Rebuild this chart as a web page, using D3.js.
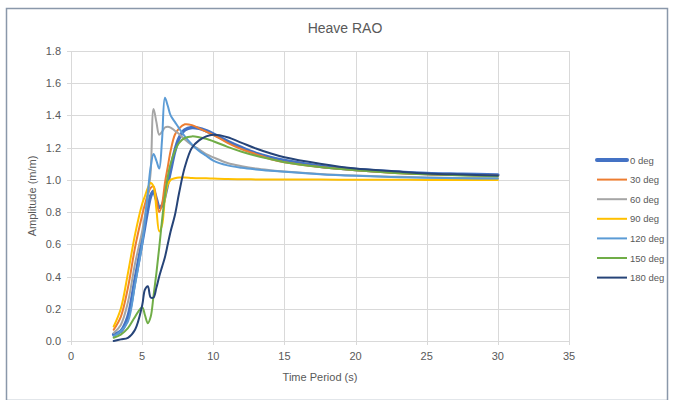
<html>
  <head>
    <title>Heave RAO</title>
    <style>
      body { margin: 0; background: white; }
      text { font-family: "Liberation Sans", "DejaVu Sans", sans-serif; fill: #595959; }
    </style>
  </head>
  <body>
    <script src="https://d3js.org/d3.v7.min.js"></script>
    <script type="text/javascript">

    // wave period (s)
    var periods = [3, 3.5, 4, 4.5, 5, 5.2, 5.4, 5.6, 5.8, 6.0, 6.2, 6.4, 6.6, 6.8, 7.0, 7.3, 7.6, 8.0, 8.5, 9.0, 9.5, 10, 11, 12, 13, 14, 15, 17.5, 20, 22.5, 25, 27.5, 30];

    var deg0   = [0.04, 0.06, 0.15, 0.38, 0.62, 0.72, 0.82, 0.90, 0.93, 0.88, 0.83, 0.84, 0.90, 0.98, 1.06, 1.18, 1.26, 1.31, 1.325, 1.32, 1.305, 1.285, 1.24, 1.20, 1.165, 1.14, 1.12, 1.085, 1.065, 1.05, 1.04, 1.035, 1.03];
    var deg30  = [0.07, 0.15, 0.33, 0.58, 0.78, 0.85, 0.91, 0.95, 0.96, 0.88, 0.80, 0.85, 0.98, 1.08, 1.18, 1.28, 1.32, 1.345, 1.34, 1.32, 1.30, 1.28, 1.23, 1.19, 1.16, 1.13, 1.11, 1.08, 1.06, 1.045, 1.035, 1.03, 1.025];
    var deg60  = [0.05, 0.10, 0.24, 0.48, 0.68, 0.78, 0.90, 1.05, 1.44, 1.36, 1.28, 1.30, 1.325, 1.33, 1.325, 1.305, 1.285, 1.25, 1.215, 1.19, 1.16, 1.14, 1.105, 1.085, 1.07, 1.06, 1.052, 1.037, 1.027, 1.02, 1.015, 1.012, 1.01];
    var deg90  = [0.09, 0.20, 0.42, 0.66, 0.85, 0.90, 0.95, 0.98, 0.96, 0.82, 0.68, 0.72, 0.88, 0.97, 1.00, 1.01, 1.015, 1.015, 1.012, 1.01, 1.01, 1.008, 1.005, 1.004, 1.003, 1.003, 1.002, 1.002, 1.001, 1.001, 1.0, 1.0, 1.0];
    var deg120 = [0.03, 0.06, 0.12, 0.35, 0.60, 0.75, 0.92, 1.08, 1.16, 1.12, 1.07, 1.25, 1.51, 1.46, 1.40, 1.36, 1.32, 1.27, 1.22, 1.18, 1.15, 1.12, 1.09, 1.075, 1.065, 1.057, 1.05, 1.035, 1.025, 1.018, 1.013, 1.01, 1.008];
    var deg150 = [0.02, 0.04, 0.08, 0.15, 0.21, 0.16, 0.11, 0.15, 0.28, 0.42, 0.58, 0.75, 0.90, 1.02, 1.10, 1.18, 1.23, 1.26, 1.27, 1.265, 1.255, 1.24, 1.205, 1.175, 1.15, 1.13, 1.11, 1.08, 1.06, 1.045, 1.035, 1.028, 1.022];
    var deg180 = [0.0, 0.01, 0.02, 0.07, 0.22, 0.32, 0.34, 0.27, 0.27, 0.33, 0.40, 0.46, 0.52, 0.60, 0.68, 0.78, 0.92, 1.08, 1.20, 1.245, 1.27, 1.28, 1.265, 1.23, 1.195, 1.165, 1.14, 1.10, 1.07, 1.055, 1.04, 1.033, 1.028];

    var seriesNames = ["0 deg", "30 deg", "60 deg", "90 deg", "120 deg", "150 deg", "180 deg"];
    var seriesValues = [deg0, deg30, deg60, deg90, deg120, deg150, deg180];
    var colors = ["#4472C4", "#ED7D31", "#A5A5A5", "#FFC000", "#5B9BD5", "#70AD47", "#264478"];

    var xTicks = [0, 5, 10, 15, 20, 25, 30, 35];
    var yTicks = [0, 0.2, 0.4, 0.6, 0.8, 1.0, 1.2, 1.4, 1.6, 1.8];

    var w = 673;
    var h = 400;
    var margin = {left: 71, right: 104, top: 51, bottom: 59};

    var svg = d3.select("body")
                .append("svg")
                .attr("width", w)
                .attr("height", h);

    // chart frame
    svg.append("rect")
       .attr("x", 6.5)
       .attr("y", 8.5)
       .attr("width", 661)
       .attr("height", 392)
       .attr("fill", "white")
       .attr("stroke", "#8a98aa")
       .attr("stroke-width", 1.5);

    var x = d3.scaleLinear().domain([0, 35]).range([margin.left, w - margin.right]);
    var y = d3.scaleLinear().domain([0, 1.8]).range([h - margin.bottom, margin.top]);

    // grid
    svg.append("g")
       .selectAll("line")
       .data(yTicks)
       .enter()
       .append("line")
         .attr("x1", x(0) - 4)
         .attr("x2", x(35))
         .attr("y1", function(d){ return Math.round(y(d)) + 0.5; })
         .attr("y2", function(d){ return Math.round(y(d)) + 0.5; })
         .attr("stroke", "#d9d9d9")
         .attr("stroke-width", 1);

    svg.append("g")
       .selectAll("line")
       .data(xTicks)
       .enter()
       .append("line")
         .attr("x1", function(d){ return Math.round(x(d)) + 0.5; })
         .attr("x2", function(d){ return Math.round(x(d)) + 0.5; })
         .attr("y1", y(1.8))
         .attr("y2", y(0) + 4)
         .attr("stroke", "#d9d9d9")
         .attr("stroke-width", 1);

    // tick labels
    svg.append("g")
       .selectAll("text")
       .data(yTicks)
       .enter()
       .append("text")
         .attr("x", x(0) - 10)
         .attr("y", function(d){ return y(d) + 4; })
         .attr("text-anchor", "end")
         .style("font-size", "11px")
         .text(function(d){ return d3.format(".1f")(d); });

    svg.append("g")
       .selectAll("text")
       .data(xTicks)
       .enter()
       .append("text")
         .attr("x", function(d){ return x(d); })
         .attr("y", y(0) + 19)
         .attr("text-anchor", "middle")
         .style("font-size", "11px")
         .text(function(d){ return d; });

    // titles
    svg.append("text")
       .attr("x", 345)
       .attr("y", 33)
       .attr("text-anchor", "middle")
       .style("font-size", "14px")
       .text("Heave RAO");

    svg.append("text")
       .attr("x", (x(0) + x(35)) / 2)
       .attr("y", 381)
       .attr("text-anchor", "middle")
       .style("font-size", "11px")
       .text("Time Period (s)");

    svg.append("text")
       .attr("transform", "translate(36," + ((y(0) + y(1.8)) / 2) + ") rotate(-90)")
       .attr("text-anchor", "middle")
       .style("font-size", "11px")
       .text("Amplitude (m/m)");

    // lines
    var line = d3.line()
                 .x(function(d){ return x(d[0]); })
                 .y(function(d){ return y(d[1]); })
                 .curve(d3.curveCatmullRom.alpha(0.5));

    svg.append("g")
       .selectAll("path")
       .data(seriesValues)
       .enter()
       .append("path")
         .attr("d", function(vals){ return line(periods.map(function(p, i){ return [p, vals[i]]; })); })
         .attr("fill", "none")
         .attr("stroke", function(d, i){ return colors[i]; })
         .attr("stroke-width", function(d, i){ return i == 0 ? 3.5 : 2; })
         .attr("stroke-linejoin", "round")
         .attr("stroke-linecap", "round");

    // legend
    var legend = svg.append("g")
                    .selectAll("g")
                    .data(seriesNames)
                    .enter()
                    .append("g")
                    .attr("transform", function(d, i){ return "translate(597," + (160 + i * 19.6) + ")"; });

    legend.append("line")
          .attr("x1", 0)
          .attr("x2", 30)
          .attr("stroke", function(d, i){ return colors[i]; })
          .attr("stroke-width", function(d, i){ return i == 0 ? 4 : 2; })
          .attr("stroke-linecap", function(d, i){ return i == 0 ? "round" : "butt"; });

    legend.append("text")
          .attr("x", 33)
          .attr("y", 3.5)
          .style("font-size", "9.5px")
          .text(function(d){ return d; });

    </script>
  </body>
</html>
